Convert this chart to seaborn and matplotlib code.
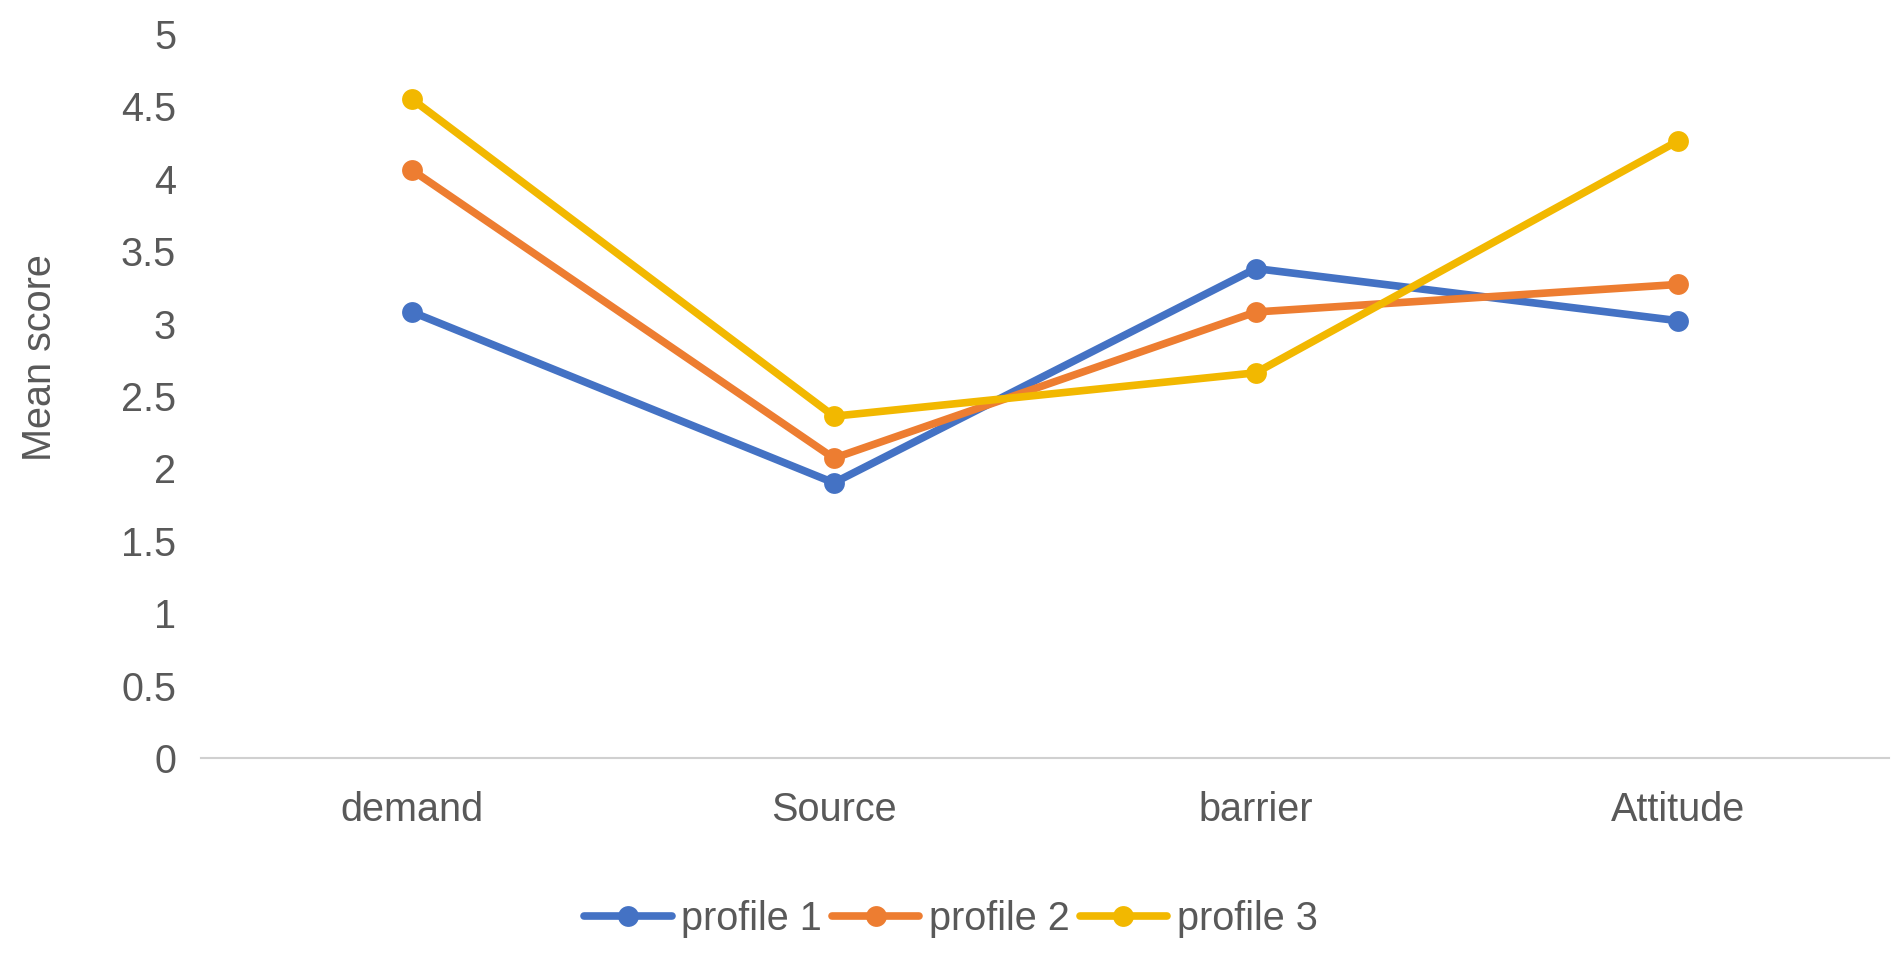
import matplotlib
matplotlib.use("Agg")
import matplotlib.pyplot as plt
import seaborn as sns
import pandas as pd

categories = ["demand", "Source", "barrier", "Attitude"]
profile_1 = [3.08, 1.90, 3.38, 3.02]
profile_2 = [4.06, 2.07, 3.08, 3.27]
profile_3 = [4.55, 2.36, 2.66, 4.26]
series_names = ["profile 1", "profile 2", "profile 3"]
y_ticks = [0, 0.5, 1, 1.5, 2, 2.5, 3, 3.5, 4, 4.5, 5]
y_tick_labels = ["0", "0.5", "1", "1.5", "2", "2.5", "3", "3.5", "4", "4.5", "5"]
colors = ["#4472C4", "#ED7D31", "#F2B800"]

rows = []
for name, vals in zip(series_names, [profile_1, profile_2, profile_3]):
    for c, v in zip(categories, vals):
        rows.append({"category": c, "score": v, "profile": name})
df = pd.DataFrame(rows)

sns.set_theme(style="white")
plt.rcParams["font.family"] = ["Liberation Sans", "DejaVu Sans"]

FS = 28.5
fig = plt.figure(figsize=(19.02, 9.57), dpi=100)
ax = fig.add_axes([0.1057, 0.208, 0.8873, 0.7565])

sns.lineplot(data=df, x="category", y="score", hue="profile", palette=colors,
             marker="o", markersize=15, markeredgewidth=0, linewidth=5.5,
             sort=False, ax=ax, legend=True)

ax.set_xlim(-0.5, 3.5)
ax.set_ylim(0, 5)
ax.set_yticks(y_ticks)
ax.set_yticklabels(y_tick_labels)
ax.tick_params(axis="both", which="both", length=0, labelsize=FS, labelcolor="#595959")
ax.tick_params(axis="x", pad=24)
ax.tick_params(axis="y", pad=18)
for s in ["top", "right", "left"]:
    ax.spines[s].set_visible(False)
ax.spines["bottom"].set_color("#D0D0D0")
ax.spines["bottom"].set_linewidth(1.5)
ax.grid(False)
ax.set_xlabel("")
ax.set_ylabel("")
fig.text(0.021, 0.626, "Mean score", rotation=90, ha="center", va="center",
         fontsize=FS, color="#595959")

handles, labels = ax.get_legend_handles_labels()
ax.legend(handles, labels, loc="center", bbox_to_anchor=(0.5, 0.040),
          bbox_transform=fig.transFigure, ncol=3, frameon=False,
          fontsize=FS, labelcolor="#595959", handlelength=2.2,
          handletextpad=0.25, columnspacing=0.25)

fig.savefig("out.png", dpi=100)
